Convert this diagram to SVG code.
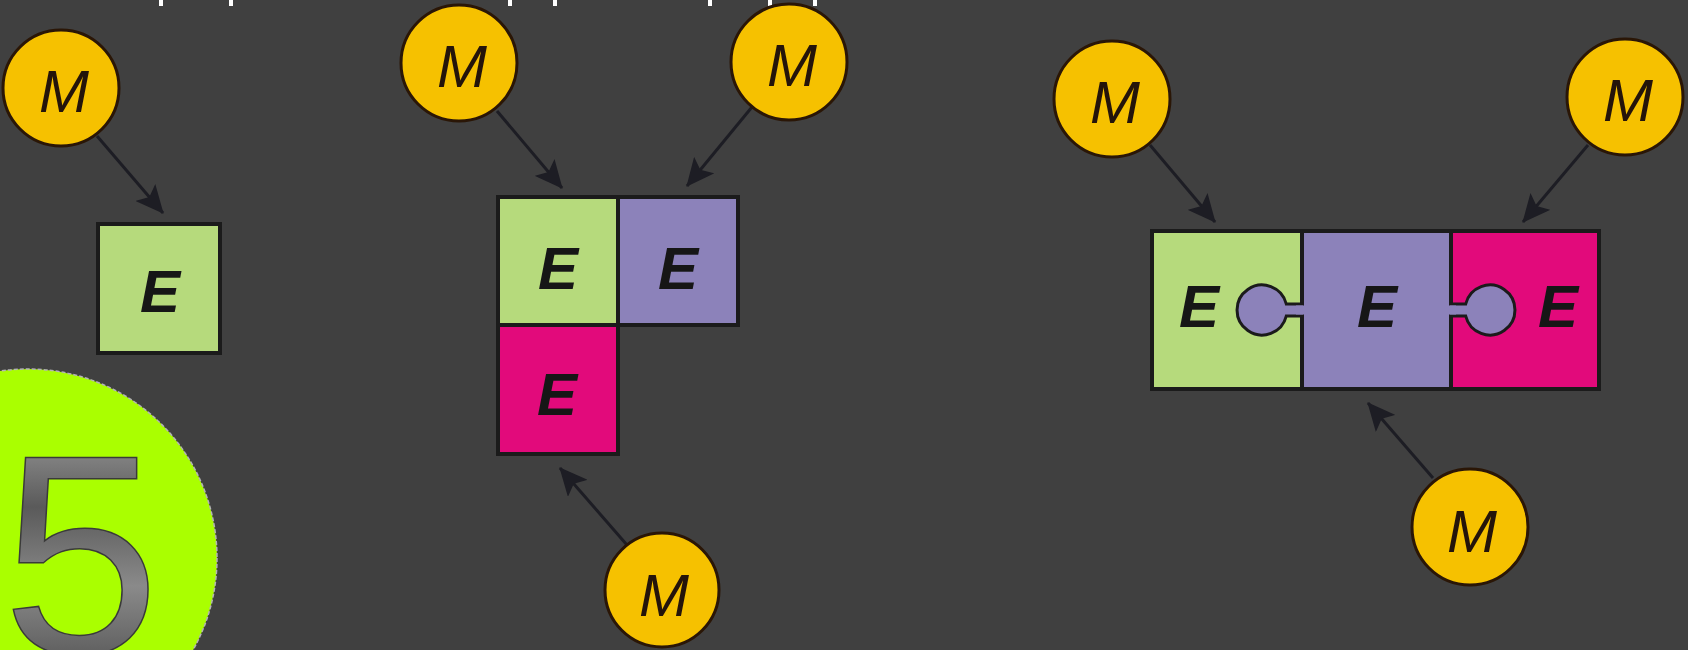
<svg xmlns="http://www.w3.org/2000/svg" width="1688" height="650" viewBox="0 0 1688 650">
<defs>
<style>
.m{fill:#f6c100;stroke:#2a1606;stroke-width:3}
.mt{font-family:"Liberation Sans",Arial,sans-serif;font-style:italic;font-size:60px;fill:#24140a;text-anchor:middle}
.et{font-family:"Liberation Sans",Arial,sans-serif;font-style:italic;font-weight:bold;font-size:60px;fill:#161616;text-anchor:middle}
.g{fill:#b6da7c;stroke:#1b1b1b;stroke-width:4}
.p{fill:#8c82ba;stroke:#1b1b1b;stroke-width:4}
.k{fill:#e20a7b;stroke:#1b1b1b;stroke-width:4}
.lol{fill:#8c82ba;stroke:#1b1b1b;stroke-width:3}
.c{stroke:#1d1d24;stroke-width:3;fill:none;marker-end:url(#ah)}
.tick{fill:#ffffff}
</style>
<marker id="ah" markerUnits="userSpaceOnUse" viewBox="0 0 28 26" refX="27" refY="13" markerWidth="28" markerHeight="26" orient="auto">
<path d="M0,0 L28,13 L0,26 L6,13 z" fill="#1d1d24"/>
</marker>
<linearGradient id="metal" x1="0" y1="0" x2="0" y2="1">
<stop offset="0" stop-color="#b0b0b0"/>
<stop offset="0.35" stop-color="#5a5a5a"/>
<stop offset="0.6" stop-color="#8a8a8a"/>
<stop offset="1" stop-color="#3c3c3c"/>
</linearGradient>
</defs>
<rect x="0" y="0" width="1688" height="650" fill="#404040"/>

<g id="top-ticks">
<rect class="tick" x="159" y="0" width="4" height="6"/>
<rect class="tick" x="229" y="0" width="4" height="6"/>
<rect class="tick" x="508" y="0" width="4" height="6"/>
<rect class="tick" x="553" y="0" width="4" height="6"/>
<rect class="tick" x="708" y="0" width="4" height="6"/>
<rect class="tick" x="768" y="0" width="4" height="6"/>
<rect class="tick" x="813" y="0" width="4" height="6"/>
</g>

<g id="badge">
<circle cx="28" cy="558" r="189" fill="#aaff00" stroke="#b4b4b4" stroke-width="1.5" stroke-dasharray="4 2"/>
<text x="2" y="653" font-family="'Liberation Sans',Arial,sans-serif" font-size="284" fill="url(#metal)" stroke="#3a3a3a" stroke-width="1.5">5</text>
</g>

<g id="connectors">
<line class="c" x1="97" y1="136" x2="163" y2="213"/>
<line class="c" x1="497" y1="111" x2="562" y2="188"/>
<line class="c" x1="752" y1="107" x2="687" y2="186"/>
<line class="c" x1="627" y1="545" x2="560" y2="468"/>
<line class="c" x1="1150" y1="145" x2="1215" y2="222"/>
<line class="c" x1="1588" y1="145" x2="1523" y2="222"/>
<line class="c" x1="1433" y1="478" x2="1368" y2="403"/>
</g>

<g id="left-M"><circle class="m" cx="61" cy="88" r="58"/><text class="mt" x="64" y="112">M</text></g>
<g id="left-E"><rect class="g" x="98" y="224" width="122" height="129"/><text class="et" x="160" y="312">E</text></g>

<g id="mid-M1"><circle class="m" cx="459" cy="63" r="58"/><text class="mt" x="462" y="87">M</text></g>
<g id="mid-M2"><circle class="m" cx="789" cy="62" r="58"/><text class="mt" x="792" y="86">M</text></g>
<g id="mid-M3"><circle class="m" cx="662" cy="590" r="57"/><text class="mt" x="664" y="616">M</text></g>
<g id="mid-E1"><rect class="g" x="498" y="197" width="120" height="128"/><text class="et" x="558" y="289">E</text></g>
<g id="mid-E2"><rect class="p" x="618" y="197" width="120" height="128"/><text class="et" x="678" y="289">E</text></g>
<g id="mid-E3"><rect class="k" x="498" y="325" width="120" height="129"/><text class="et" x="557" y="415">E</text></g>

<g id="right-M1"><circle class="m" cx="1112" cy="99" r="58"/><text class="mt" x="1115" y="123">M</text></g>
<g id="right-M2"><circle class="m" cx="1625" cy="97" r="58"/><text class="mt" x="1628" y="121">M</text></g>
<g id="right-M3"><circle class="m" cx="1470" cy="527" r="58"/><text class="mt" x="1472" y="552">M</text></g>
<g id="right-E1"><rect class="g" x="1152" y="231" width="150" height="158"/><text class="et" x="1199" y="327">E</text></g>
<g id="right-E2"><rect class="p" x="1302" y="231" width="149" height="158"/><text class="et" x="1377" y="327">E</text></g>
<g id="right-E3"><rect class="k" x="1451" y="231" width="148" height="158"/><text class="et" x="1558" y="327">E</text></g>

<g id="joints">
<path class="lol" d="M1303,304 H1286.3 A25,25 0 1 0 1286.3,316 H1303"/>
<rect x="1296" y="305.5" width="10" height="9" fill="#8c82ba"/>
<path class="lol" d="M1450,304 H1465.7 A25,25 0 1 1 1465.7,316 H1450"/>
<rect x="1446" y="305.5" width="10" height="9" fill="#8c82ba"/>
</g>
</svg>
